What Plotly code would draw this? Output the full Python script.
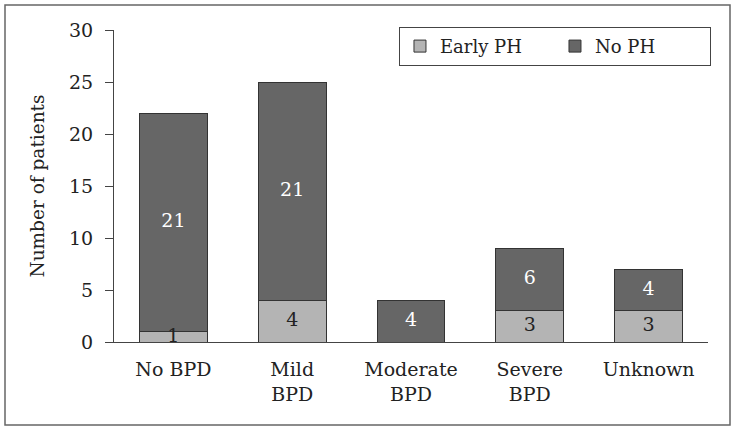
import plotly.graph_objects as go

categories = ["No BPD", "Mild<br>BPD", "Moderate<br>BPD", "Severe<br>BPD", "Unknown"]
early_ph = [1, 4, 0, 3, 3]
no_ph = [21, 21, 4, 6, 4]
y_ticks = [0, 5, 10, 15, 20, 25, 30]

FONT = "DejaVu Serif"

def labels(vals):
    return [str(v) if v > 0 else "" for v in vals]

fig = go.Figure()
fig.add_trace(go.Bar(
    x=categories, y=early_ph, name="Early PH",
    marker=dict(color="#b4b4b4", line=dict(color="#333333", width=1)),
))
fig.add_trace(go.Bar(
    x=categories, y=no_ph, name="No PH",
    marker=dict(color="#666666", line=dict(color="#333333", width=1)),
))
# value labels at segment centres, derived from the data
fig.add_trace(go.Scatter(
    x=categories, y=[e / 2 for e in early_ph], text=labels(early_ph),
    mode="text", textposition="middle center", showlegend=False, hoverinfo="skip",
    cliponaxis=False, textfont=dict(family=FONT, size=19, color="#222222"),
))
fig.add_trace(go.Scatter(
    x=categories, y=[e + n / 2 for e, n in zip(early_ph, no_ph)], text=labels(no_ph),
    mode="text", textposition="middle center", showlegend=False, hoverinfo="skip",
    cliponaxis=False, textfont=dict(family=FONT, size=19, color="#ffffff"),
))

W, H = 735, 431
l, r, t, b = 114, 27, 30, 89
pw, ph = W - l - r, H - t - b

fig.update_layout(
    width=W, height=H,
    margin=dict(l=l, r=r, t=t, b=b, autoexpand=False),
    barmode="stack", bargap=0.43,
    plot_bgcolor="white", paper_bgcolor="white",
    font=dict(family=FONT, size=18, color="#222222"),
    showlegend=True,
    legend=dict(
        orientation="h", traceorder="normal",
        x=1.005, xanchor="right", y=1.01, yanchor="top",
        bordercolor="#444444", borderwidth=1, bgcolor="white",
        font=dict(family=FONT, size=18, color="#222222"),
        entrywidth=110, itemwidth=30,
    ),
    xaxis=dict(
        showline=True, linecolor="#444444", linewidth=1,
        ticks="", showgrid=False, ticklabelstandoff=10,
        tickfont=dict(family=FONT, size=19, color="#222222"),
    ),
    yaxis=dict(
        range=[0, 30], tickvals=y_ticks, showline=True, linecolor="#444444", linewidth=1,
        ticks="outside", ticklen=8, tickcolor="#444444", showgrid=False, zeroline=False,
        ticklabelstandoff=8,
        tickfont=dict(family=FONT, size=19, color="#222222"),
        title=dict(text="Number of patients", font=dict(family=FONT, size=18.5, color="#222222"), standoff=19),
    ),
    shapes=[dict(
        type="rect", xref="paper", yref="paper",
        x0=(5 - l) / pw, x1=(730 - l) / pw,
        y0=(H - b - 425) / ph, y1=(H - b - 5) / ph,
        line=dict(color="#666666", width=1.5), fillcolor="rgba(0,0,0,0)", layer="below",
    )],
)

fig.write_html("out.html", config={"displayModeBar": False},
               post_script="document.body.style.margin='0';document.body.style.padding='0';")
